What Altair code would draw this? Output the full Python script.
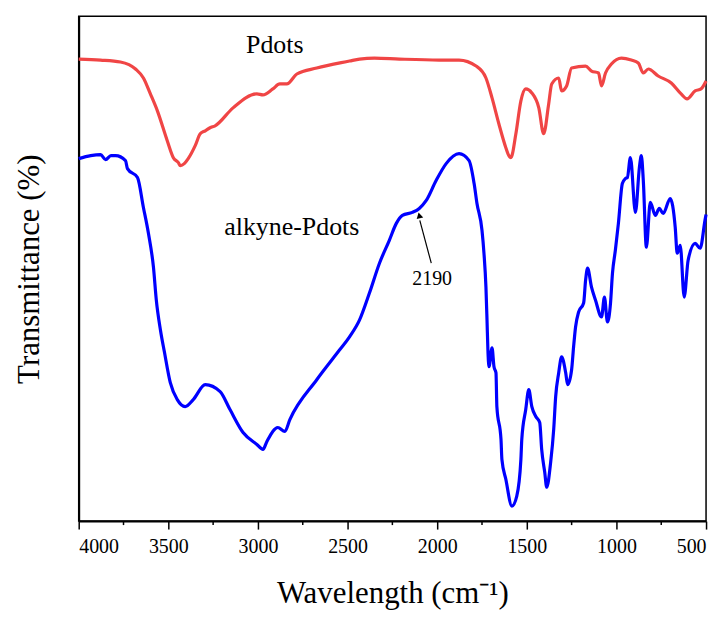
import altair as alt
import pandas as pd

# Pdots (red) : wavenumber (cm-1) and transmittance (arbitrary units)
red_wn = [4000, 3878, 3767, 3683, 3639, 3600, 3561, 3506, 3472, 3444, 3433, 3411, 3389, 3350,
          3322, 3294, 3267, 3239, 3139, 3006, 2972, 2917, 2878, 2839, 2783, 2672, 2489, 2433,
          2350, 2211, 1989, 1878, 1783, 1728, 1694, 1656, 1617, 1600, 1589, 1561, 1533, 1506,
          1472, 1433, 1406, 1378, 1361, 1322, 1306, 1278, 1250, 1172, 1139, 1100, 1083, 1061,
          1028, 972, 917, 878, 850, 822, 767, 694, 639, 606, 561, 528, 500]
red_t = [464, 463, 461, 454, 445, 429, 412, 382, 365, 360, 357, 359, 364, 377,
         389, 392, 395, 397, 415, 429, 428, 434, 439, 439, 449, 455, 462, 464,
         465, 464, 463, 463, 457, 445, 425, 399, 375, 367, 365, 389, 422, 434,
         430, 415, 389, 419, 439, 445, 432, 437, 455, 457, 452, 450, 437, 450,
         459, 465, 463, 460, 450, 454, 447, 440, 429, 424, 432, 434, 442]

# alkyne-Pdots (blue)
blue_wn = [4000, 3933, 3878, 3850, 3820, 3794, 3739, 3728, 3672, 3639, 3611, 3583, 3567, 3544,
           3522, 3489, 3450, 3406, 3361, 3294, 3211, 3156, 3083, 3006, 2972, 2950, 2889, 2850,
           2822, 2672, 2544, 2489, 2433, 2378, 2322, 2267, 2228, 2194, 2139, 2100, 2061, 2006,
           1950, 1878, 1822, 1794, 1778, 1750, 1739, 1728, 1722, 1717, 1711, 1694, 1683, 1672,
           1667, 1644, 1639, 1617, 1583, 1556, 1533, 1528, 1506, 1489, 1472, 1450, 1428, 1417,
           1400, 1389, 1367, 1350, 1339, 1322, 1306, 1283, 1272, 1250, 1239, 1228, 1211, 1183,
           1172, 1161, 1139, 1117, 1083, 1067, 1050, 1033, 1022, 1006, 989, 967, 950, 939,
           922, 894, 872, 861, 850, 833, 811, 783, 761, 739, 700, 672, 661, 644, 622, 600,
           561, 533, 506, 500]
blue_t = [364, 367, 368, 363, 367, 367, 362, 354, 345, 315, 289, 255, 222, 192,
          170, 139, 122, 115, 122, 137, 130, 112, 89, 77, 72, 80, 94, 90,
          102, 142, 172, 185, 202, 229, 259, 282, 299, 307, 310, 314, 322, 342,
          359, 369, 362, 339, 319, 292, 269, 235, 202, 172, 155, 174, 155, 149,
          115, 82, 62, 42, 15, 25, 62, 82, 112, 132, 115, 105, 99, 72,
          49, 34, 59, 92, 125, 149, 165, 149, 137, 152, 175, 195, 210, 219,
          242, 254, 235, 222, 205, 225, 200, 219, 249, 272, 299, 339, 344, 345,
          365, 310, 355, 367, 342, 275, 320, 307, 314, 309, 324, 295, 269, 277, 225, 262,
          279, 274, 302, 308]

labels = ["Pdots", "alkyne-Pdots", "2190"]
label_wn = [2906, 2811, 2028]
label_t = [478, 295, 243]
label_size = [26, 26, 20]

arrow_wn = [2033, 2097]
arrow_t = [259, 302]
arrow_head_wn = [2100]
arrow_head_t = [307]

major_ticks = list(range(500, 4001, 500))
minor_ticks = [3750, 3250, 2750, 2250, 1750, 1250, 750]

FONT = "Liberation Serif"
W, H = 630, 507

df = pd.concat([
    pd.DataFrame({"wn": red_wn, "t": red_t, "s": "Pdots"}),
    pd.DataFrame({"wn": blue_wn, "t": blue_t, "s": "alkyne-Pdots"}),
])

x_scale = alt.Scale(domain=[500, 4000], reverse=True, nice=False, zero=False)
y_scale = alt.Scale(domain=[0, 507], nice=False, zero=False)

x_axis = alt.Axis(
    title="Wavelength (cm⁻¹)",
    values=major_ticks,
    format="d",
    grid=False, tickSize=8, tickWidth=1.5, tickColor="black",
    domainColor="black", domainWidth=2,
    labelFont=FONT, labelFontSize=20, labelColor="black", labelPadding=8,
    titleFont=FONT, titleFontSize=31, titleFontWeight="normal", titleColor="black",
    titlePadding=22,
)
y_axis = alt.Axis(
    title="Transmittance (%)", labels=False, ticks=False, grid=False,
    domainColor="black", domainWidth=2,
    titleFont=FONT, titleFontSize=31, titleFontWeight="normal", titleColor="black",
    titlePadding=33,
)

lines = alt.Chart(df).mark_line(strokeWidth=3.2, interpolate="monotone").encode(
    x=alt.X("wn:Q", scale=x_scale, axis=x_axis),
    y=alt.Y("t:Q", scale=y_scale, axis=y_axis),
    color=alt.Color("s:N", scale=alt.Scale(domain=["Pdots", "alkyne-Pdots"],
                                           range=["#F04545", "#0000FF"]), legend=None),
    detail="s:N",
)

mdf = pd.DataFrame({"wn": minor_ticks})
minor = alt.Chart(mdf).mark_rule(color="black", strokeWidth=1.5).encode(
    x=alt.X("wn:Q", scale=x_scale),
    y=alt.value(H), y2=alt.value(H + 4),
)

tdf = pd.DataFrame({"label": labels, "wn": label_wn, "t": label_t, "size": label_size})
texts = alt.Chart(tdf).mark_text(font=FONT, color="black", align="center", baseline="middle").encode(
    x=alt.X("wn:Q", scale=x_scale),
    y=alt.Y("t:Q", scale=y_scale),
    text="label:N",
    size=alt.Size("size:Q", scale=None, legend=None),
)

adf = pd.DataFrame({"wn": [arrow_wn[0]], "t": [arrow_t[0]], "wn2": [arrow_wn[1]], "t2": [arrow_t[1]]})
arrow = alt.Chart(adf).mark_rule(color="black", strokeWidth=1.2).encode(
    x=alt.X("wn:Q", scale=x_scale), y=alt.Y("t:Q", scale=y_scale),
    x2="wn2:Q", y2="t2:Q",
)
hdf = pd.DataFrame({"wn": arrow_head_wn, "t": arrow_head_t})
head = alt.Chart(hdf).mark_point(shape="triangle-up", filled=True, size=45, angle=346,
                                 color="black", opacity=1).encode(
    x=alt.X("wn:Q", scale=x_scale), y=alt.Y("t:Q", scale=y_scale),
)

chart = alt.layer(lines, minor, arrow, head, texts).properties(
    width=W, height=H,
    padding={"left": 6, "top": 7, "right": 5, "bottom": 5},
).configure(background="white", font=FONT).configure_view(stroke="black", strokeWidth=1.5)

chart.save("out.html", embed_options={"renderer": "svg", "actions": False})
